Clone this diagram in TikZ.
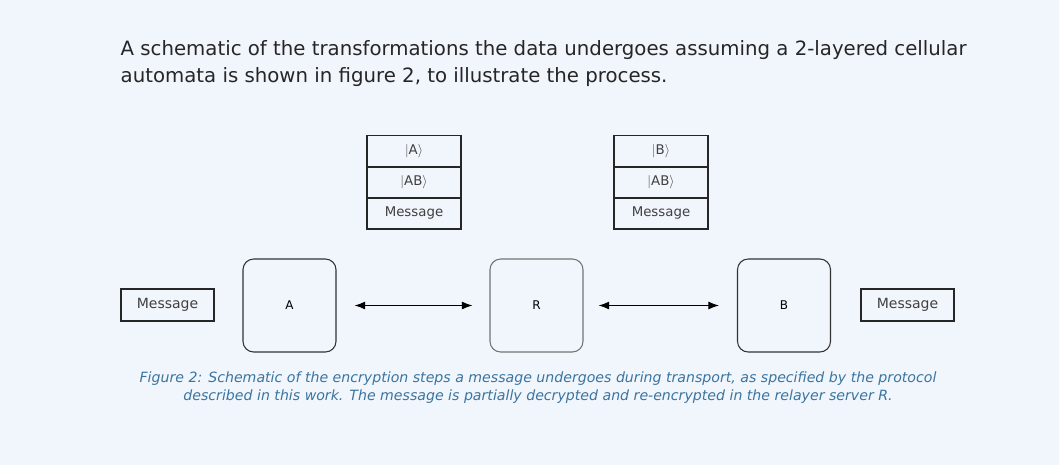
\documentclass[tikz,border=0pt]{standalone}
\usepackage{fontspec}
\setmainfont{DejaVu Sans}
\newfontfamily\capfont{DejaVu Sans}
\definecolor{bg}{HTML}{F1F5FC}
\definecolor{capc}{HTML}{3A75A0}
\begin{document}
\begin{tikzpicture}[x=0.75pt,y=-0.75pt,
  cell/.style={draw=black!85,line width=0.9pt,minimum width=94*0.75pt,minimum height=31*0.75pt,inner sep=0pt,font=\fontsize{10}{11}\selectfont,text=black!75},
  party/.style={draw=black!80,line width=0.8pt,rounded corners=8pt,minimum width=93*0.75pt,minimum height=93*0.75pt,font=\fontsize{9}{10}\selectfont},
  msg/.style={draw=black!85,line width=0.9pt,minimum width=93*0.75pt,minimum height=32*0.75pt,inner sep=0pt,font=\fontsize{10.5}{11}\selectfont,text=black!75},
  link/.style={line width=0.8pt,{Latex[length=8pt,width=6pt]}-{Latex[length=8pt,width=6pt]}}]
\usetikzlibrary{arrows.meta}
\fill[bg] (0,0) rectangle (1059,465);
\useasboundingbox (0,0) rectangle (1059,465);
\node[anchor=west,text=black!85,font=\fontsize{14.8}{20}\selectfont] (t1) at (116,50) {A schematic of the transformations the data undergoes assuming a 2-layered cellular};
\node[anchor=west,text=black!85,font=\fontsize{14.8}{20}\selectfont] (t2) at (116,77) {automata is shown in figure 2, to illustrate the process.};
\node[cell] (a1) at (414,151) {$|$A$\rangle$};
\node[cell] (a2) at (414,182.5) {$|$AB$\rangle$};
\node[cell] (a3) at (414,213.5) {Message};
\node[cell] (b1) at (661,151) {$|$B$\rangle$};
\node[cell] (b2) at (661,182.5) {$|$AB$\rangle$};
\node[cell] (b3) at (661,213.5) {Message};
\node[party] (A) at (289.5,305.5) {A};
\node[party,draw=black!55] (R) at (536.5,305.5) {R};
\node[party] (B) at (784,305.5) {B};
\node[msg] (ml) at (167.5,305) {Message};
\node[msg] (mr) at (907.5,305) {Message};
\draw[link] ([xshift=18*0.75pt]A.east) -- ([xshift=-17*0.75pt]R.west);
\draw[link] ([xshift=15*0.75pt]R.east) -- ([xshift=-18*0.75pt]B.west);
\node[text=capc,font=\capfont\itshape\fontsize{10.6}{13.5}\selectfont,align=center] (cap) at (538,388)
{Figure 2: Schematic of the encryption steps a message undergoes during transport, as specified by the protocol\\described in this work. The message is partially decrypted and re-encrypted in the relayer server R.};
\end{tikzpicture}
\end{document}
